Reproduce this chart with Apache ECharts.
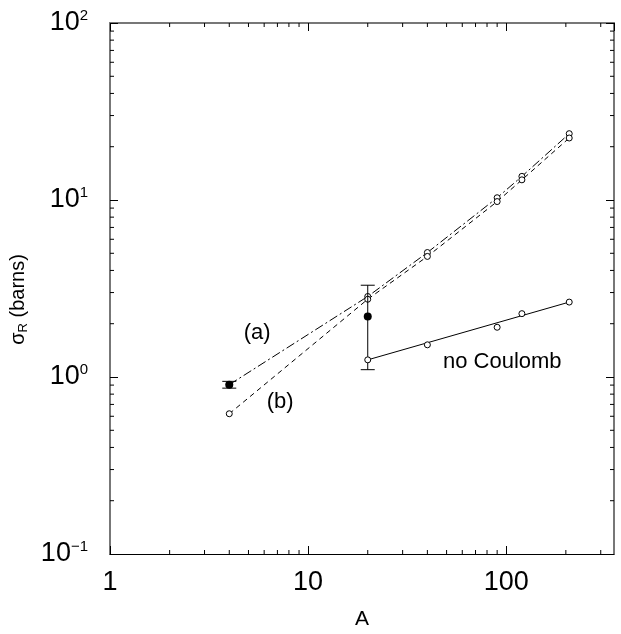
<!DOCTYPE html>
<html><head><meta charset="utf-8">
<script src="https://cdn.jsdelivr.net/npm/echarts@6/dist/echarts.min.js"></script>
<style>html,body{margin:0;padding:0;background:#fff}#c{width:621px;height:634px}</style>
</head><body><div id="c"></div>
<script>
// ---- data ----
const massNumbers = [4, 20, 40, 90, 120, 208];
const calcA = [0.905, 2.85, 5.05, 10.3, 13.6, 23.7];
const calcB = [0.62, 2.75, 4.8, 9.8, 13.0, 22.4];
const noCoulombMass = [20, 40, 90, 120, 208];
const noCoulombVals = [1.25, 1.52, 1.91, 2.28, 2.65];
const noCoulombFitMass = [20, 208];
const noCoulombFitVals = [1.25, 2.65];
const expMass = [4, 20];
const expVals = [0.905, 2.2];
const expErrLow = [0.865, 1.1];
const expErrHigh = [0.945, 3.3];
const xMinorTicks = [2,3,4,5,6,7,8,9,20,30,40,50,60,70,80,90,200,300];
const yMinorTicks = [0.2,0.3,0.4,0.5,0.6,0.7,0.8,0.9,2,3,4,5,6,7,8,9,20,30,40,50,60,70,80,90];
const xTickLabels = ['1', '10', '100'];
const annotationTexts = ['(a)', '(b)', 'no Coulomb'];
const annotationMass = [5.53, 7.22, 95.5];
const annotationVals = [1.77, 0.72, 1.22];

const FF = "'Liberation Sans', Arial, Helvetica, sans-serif";
const chart = echarts.init(document.getElementById('c'), null, {renderer: 'canvas'});

const frameGray = '#777';
function supLabel(v) {
  const e = Math.round(Math.log10(v));
  if (Math.abs(Math.log10(v) - e) > 1e-6) return '';
  return '{b|10}{s|' + (e < 0 ? '\u2212' + (-e) : e) + '}';
}
function xLabel(v) {
  const s = String(Math.round(v));
  return xTickLabels.indexOf(s) >= 0 ? s : '';
}

const option = {
  animation: false,
  backgroundColor: '#fff',
  grid: {left: 110, top: 23, right: 7, bottom: 80, containLabel: false, outerBoundsMode: 'none'},
  xAxis: [
    {
      type: 'log', logBase: 10, min: 1, max: 350, position: 'bottom',
      axisLine: {show: true, onZero: false, lineStyle: {color: '#000', width: 1}},
      axisTick: {show: true, inside: true, length: 8, lineStyle: {color: '#000', width: 1}},
      axisLabel: {show: true, margin: 15, fontSize: 27, fontFamily: FF, color: '#000', lineHeight: 27,
                  formatter: xLabel, showMaxLabel: false},
      splitLine: {show: false}, minorTick: {show: false},
      name: 'A', nameLocation: 'middle', nameGap: 55,
      nameTextStyle: {fontSize: 21, fontFamily: FF, color: '#000'}
    },
    {
      type: 'log', logBase: 10, min: 1, max: 350, position: 'top',
      axisLine: {show: true, onZero: false, lineStyle: {color: frameGray, width: 2}},
      axisTick: {show: true, inside: true, length: 8, lineStyle: {color: '#000', width: 1}},
      axisLabel: {show: false}, splitLine: {show: false}
    }
  ],
  yAxis: [
    {
      type: 'log', logBase: 10, min: 0.1, max: 100, position: 'left',
      axisLine: {show: true, onZero: false, lineStyle: {color: frameGray, width: 2}},
      axisTick: {show: true, inside: true, length: 8, lineStyle: {color: '#000', width: 1}},
      axisLabel: {
        show: true, margin: 22, formatter: supLabel,
        rich: {
          b: {fontSize: 27, fontFamily: FF, color: '#000', lineHeight: 30},
          s: {fontSize: 15, fontFamily: FF, color: '#000', lineHeight: 15, verticalAlign: 'top'}
        }
      },
      splitLine: {show: false},
      name: '{g|\u03c3}{r|R}{g| (barns)}{sp| }', nameLocation: 'middle', nameRotate: 90, nameGap: 57,
      nameTextStyle: {
        rich: {
          g: {fontSize: 20, fontFamily: FF, color: '#000', lineHeight: 22},
          r: {fontSize: 13, fontFamily: FF, color: '#000', lineHeight: 13, verticalAlign: 'bottom'},
          sp: {fontSize: 20, fontFamily: FF, width: 22, lineHeight: 22}
        }
      }
    },
    {
      type: 'log', logBase: 10, min: 0.1, max: 100, position: 'right',
      axisLine: {show: true, onZero: false, lineStyle: {color: frameGray, width: 2}},
      axisTick: {show: true, inside: true, length: 8, lineStyle: {color: '#000', width: 1}},
      axisLabel: {show: false}, splitLine: {show: false}
    }
  ],
  series: [
    {
      type: 'custom', xAxisIndex: 0, yAxisIndex: 0, silent: true, z: 1,
      data: xMinorTicks.map(v => [v, 1]),
      renderItem: function (params, api) {
        const x = api.coord([api.value(0), 1])[0];
        const cs = params.coordSys;
        const st = {stroke: '#000', lineWidth: 1};
        return {type: 'group', children: [
          {type: 'line', shape: {x1: x, y1: cs.y + cs.height, x2: x, y2: cs.y + cs.height - 4}, style: st},
          {type: 'line', shape: {x1: x, y1: cs.y, x2: x, y2: cs.y + 4}, style: st}
        ]};
      }
    },
    {
      type: 'custom', xAxisIndex: 0, yAxisIndex: 0, silent: true, z: 1,
      data: yMinorTicks.map(v => [1, v]),
      renderItem: function (params, api) {
        const y = api.coord([1, api.value(1)])[1];
        const cs = params.coordSys;
        const st = {stroke: '#000', lineWidth: 1};
        return {type: 'group', children: [
          {type: 'line', shape: {x1: cs.x, y1: y, x2: cs.x + 4, y2: y}, style: st},
          {type: 'line', shape: {x1: cs.x + cs.width, y1: y, x2: cs.x + cs.width - 4, y2: y}, style: st}
        ]};
      }
    },
    {
      name: 'a', type: 'line', z: 3,
      data: massNumbers.map((a, i) => [a, calcA[i]]),
      symbol: 'circle', symbolSize: 6, showSymbol: true,
      itemStyle: {color: '#fff', borderColor: '#000', borderWidth: 1, opacity: 1},
      lineStyle: {color: '#000', width: 1, type: [9, 3, 2, 3]}
    },
    {
      name: 'b', type: 'line', z: 3,
      data: massNumbers.map((a, i) => [a, calcB[i]]),
      symbol: 'circle', symbolSize: 6, showSymbol: true,
      itemStyle: {color: '#fff', borderColor: '#000', borderWidth: 1, opacity: 1},
      lineStyle: {color: '#000', width: 1, type: [5, 4]}
    },
    {
      name: 'fit', type: 'line', z: 3,
      data: noCoulombFitMass.map((a, i) => [a, noCoulombFitVals[i]]),
      showSymbol: false, symbol: 'none',
      lineStyle: {color: '#000', width: 1, type: 'solid'}
    },
    {
      type: 'custom', z: 4, silent: true,
      data: expMass.map((a, i) => [a, expErrLow[i], expErrHigh[i]]),
      renderItem: function (params, api) {
        const lo = api.coord([api.value(0), api.value(1)]);
        const hi = api.coord([api.value(0), api.value(2)]);
        const w = 7;
        const st = {stroke: '#000', lineWidth: 1};
        return {type: 'group', children: [
          {type: 'line', shape: {x1: lo[0], y1: lo[1], x2: hi[0], y2: hi[1]}, style: st},
          {type: 'line', shape: {x1: lo[0] - w, y1: lo[1], x2: lo[0] + w, y2: lo[1]}, style: st},
          {type: 'line', shape: {x1: hi[0] - w, y1: hi[1], x2: hi[0] + w, y2: hi[1]}, style: st}
        ]};
      }
    },
    {
      name: 'noCoulomb', type: 'scatter', z: 5,
      data: noCoulombMass.map((a, i) => [a, noCoulombVals[i]]),
      symbol: 'circle', symbolSize: 6,
      itemStyle: {color: '#fff', borderColor: '#000', borderWidth: 1, opacity: 1}
    },
    {
      name: 'exp', type: 'scatter', z: 6,
      data: expMass.map((a, i) => [a, expVals[i]]),
      symbol: 'circle', symbolSize: 8,
      itemStyle: {color: '#000', opacity: 1}
    },
    {
      name: 'labels', type: 'scatter', z: 7, silent: true,
      data: annotationTexts.map((t, i) => ({name: t, value: [annotationMass[i], annotationVals[i]]})),
      symbolSize: 1,
      itemStyle: {color: 'rgba(0,0,0,0)', opacity: 1},
      label: {show: true, position: 'inside', formatter: '{b}', fontSize: 22, fontFamily: FF,
              color: '#000', textBorderWidth: 0}
    }
  ]
};
chart.setOption(option);
</script>
</body></html>
